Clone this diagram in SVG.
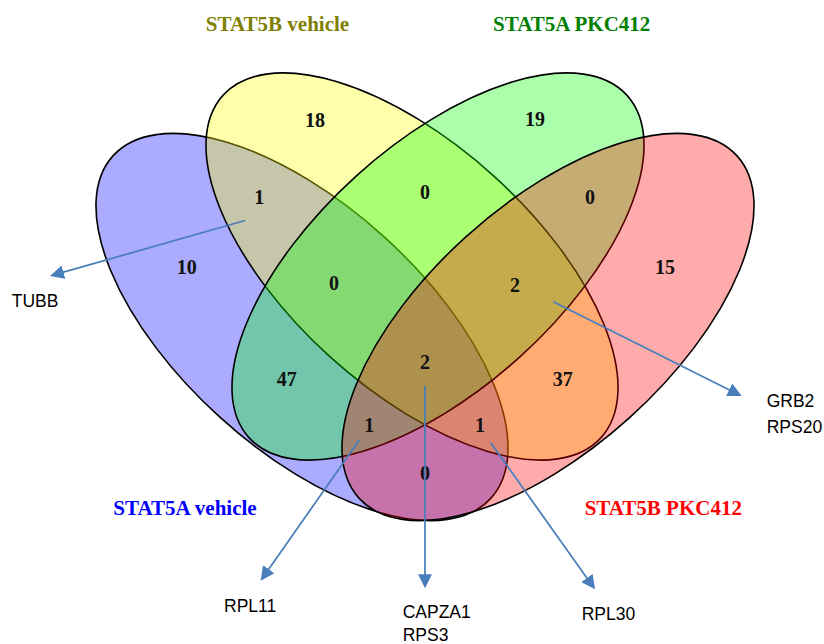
<svg xmlns="http://www.w3.org/2000/svg" width="824" height="644" viewBox="0 0 824 644">
  <defs>
    <style>
      .set { stroke: #000; stroke-width: 1.6; fill-opacity: 0.33; }
      .title { font-family: "Liberation Serif", "Times New Roman", serif; font-weight: bold; font-size: 21px; text-anchor: middle; }
      .count { font-family: "Liberation Serif", "Times New Roman", serif; font-weight: bold; font-size: 20px; text-anchor: middle; fill: #111; }
      .gene { font-family: "Liberation Sans", Arial, sans-serif; font-size: 17.5px; fill: #000; }
      .link { stroke: #4a7ebb; stroke-width: 1.75; fill: none; marker-end: url(#head); }
    </style>
    <marker id="head" viewBox="0 0 14 14" refX="11" refY="7" markerWidth="14" markerHeight="14" markerUnits="userSpaceOnUse" orient="auto">
      <path d="M0,0 L14,7 L0,14 Z" fill="#4a7ebb"/>
    </marker>
  </defs>

  <rect width="824" height="644" fill="#fff"/>

  <!-- four overlapping sets -->
  <g id="set-stat5a-vehicle">
    <ellipse class="set" fill="#0000ff" cx="0" cy="0" rx="255" ry="122" transform="translate(302,327) rotate(42.15)"/>
  </g>
  <g id="set-stat5b-vehicle">
    <ellipse class="set" fill="#ffff00" cx="0" cy="0" rx="255" ry="122" transform="translate(412,266.5) rotate(42.15)"/>
  </g>
  <g id="set-stat5a-pkc412">
    <ellipse class="set" fill="#00ff00" cx="0" cy="0" rx="255" ry="122" transform="translate(438,266.5) rotate(-42.15)"/>
  </g>
  <g id="set-stat5b-pkc412">
    <ellipse class="set" fill="#ff0000" cx="0" cy="0" rx="255" ry="122" transform="translate(548,327) rotate(-42.15)"/>
  </g>

  <!-- set titles -->
  <g id="titles">
    <text class="title" x="277.5" y="31" fill="#808000">STAT5B vehicle</text>
    <text class="title" x="571.7" y="31" fill="#008000">STAT5A PKC412</text>
    <text class="title" x="185" y="515" fill="#0000ff">STAT5A vehicle</text>
    <text class="title" x="663.3" y="515" fill="#ff0000">STAT5B PKC412</text>
  </g>

  <!-- region counts -->
  <g id="counts">
    <text class="count" x="315" y="126.8">18</text>
    <text class="count" x="535" y="126">19</text>
    <text class="count" x="259.3" y="203.5">1</text>
    <text class="count" x="425" y="198.8">0</text>
    <text class="count" x="590" y="203.5">0</text>
    <text class="count" x="186.7" y="273.5">10</text>
    <text class="count" x="665" y="273.5">15</text>
    <text class="count" x="334" y="290">0</text>
    <text class="count" x="515" y="291.8">2</text>
    <text class="count" x="286.7" y="386">47</text>
    <text class="count" x="425" y="368.5">2</text>
    <text class="count" x="562.7" y="386">37</text>
    <text class="count" x="369.3" y="431.8">1</text>
    <text class="count" x="480" y="431.8">1</text>
    <text class="count" x="425" y="480">0</text>
  </g>

  <!-- callout arrows -->
  <g id="connectors">
    <line class="link" x1="245" y1="220.5" x2="52.9" y2="275.2"/>
    <line class="link" x1="553.3" y1="301.7" x2="739" y2="394.7"/>
    <line class="link" x1="359.3" y1="440" x2="262.4" y2="578.2"/>
    <line class="link" x1="425" y1="386" x2="425" y2="585.3"/>
    <line class="link" x1="490.7" y1="442.7" x2="593.3" y2="586.9"/>
  </g>

  <!-- gene labels -->
  <g id="gene-tubb">
    <text class="gene" x="11.7" y="306.7">TUBB</text>
  </g>
  <g id="gene-grb2-rps20">
    <text class="gene" x="766.7" y="407.3">GRB2</text>
    <text class="gene" x="766.7" y="432.7">RPS20</text>
  </g>
  <g id="gene-rpl11">
    <text class="gene" x="224" y="611.7">RPL11</text>
  </g>
  <g id="gene-capza1-rps3">
    <text class="gene" x="402.7" y="617.7">CAPZA1</text>
    <text class="gene" x="402.7" y="640.5">RPS3</text>
  </g>
  <g id="gene-rpl30">
    <text class="gene" x="581.7" y="620">RPL30</text>
  </g>
</svg>
